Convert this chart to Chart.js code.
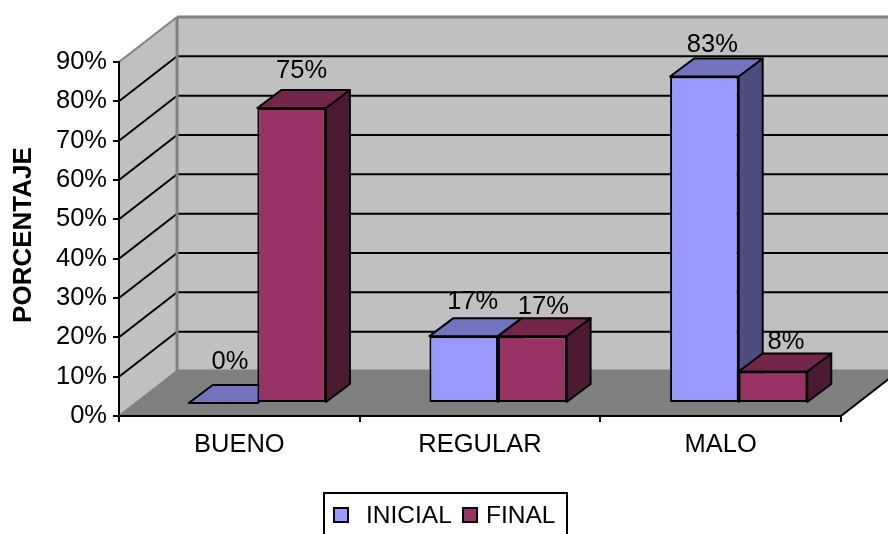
<!DOCTYPE html>
<html>
<head>
<meta charset="utf-8">
<title>Porcentaje por categoría</title>
<script src="https://cdn.jsdelivr.net/npm/chart.js@4"></script>
<style>
html, body { margin: 0; padding: 0; background: #ffffff; overflow: hidden; }
#wrap { position: relative; width: 888px; height: 534px; }
</style>
</head>
<body>
<div id="wrap"><canvas id="chart" width="888" height="534"></canvas></div>
<script>
const categories = ['BUENO', 'REGULAR', 'MALO'];
const inicialValues = [0, 17, 83];
const finalValues = [75, 17, 8];
const seriesNames = ['INICIAL', 'FINAL'];
const tickStep = 10;
const axisMax = 90;
const axisTitle = 'PORCENTAJE';

const FONT = '"Liberation Sans", Arial, sans-serif';
const TEXT_SIZE = 25.5;
const LEGEND_SIZE = 24.5;
const TITLE_SIZE = 26;

// Oblique projection of the box: wall depth, how far bars sit from the front, bar depth.
const wallDepth = { dx: 58, dy: 45 };
const barInset = { dx: 18, dy: 13 };
const barDepth = { dx: 24, dy: 18 };

// Hand placement of the value labels relative to each bar's front top centre.
const labelNudge = [
  [[7, -41], [9, -34], [8, -32]],
  [[10, -37], [11, -29], [13, -30]]
];

const faceColors = {
  front: ['#9999ff', '#993366'],
  top: ['#7373bf', '#732649'],
  side: ['#4d4d80', '#4d1a33']
};

function polygon(ctx, pts, fill, stroke, width) {
  ctx.beginPath();
  pts.forEach((p, i) => i ? ctx.lineTo(p[0], p[1]) : ctx.moveTo(p[0], p[1]));
  ctx.closePath();
  if (fill) { ctx.fillStyle = fill; ctx.fill(); }
  if (stroke) { ctx.strokeStyle = stroke; ctx.lineWidth = width; ctx.stroke(); }
}

function segment(ctx, a, b, color, width) {
  ctx.beginPath();
  ctx.moveTo(a[0], a[1]);
  ctx.lineTo(b[0], b[1]);
  ctx.strokeStyle = color;
  ctx.lineWidth = width;
  ctx.stroke();
}

// Back wall, side wall, floor and gridlines behind the axes.
const roomPlugin = {
  id: 'room',
  beforeDraw(chart) {
    const { ctx, scales: { x, y } } = chart;
    const L = x.left, R = x.right, T = y.top, B = y.bottom;
    const dx = wallDepth.dx, dy = wallDepth.dy;
    ctx.save();
    polygon(ctx, [[L + dx, T - dy], [R + dx, T - dy], [R + dx, B - dy], [L + dx, B - dy]], '#c0c0c0');
    polygon(ctx, [[L, T], [L + dx, T - dy], [L + dx, B - dy], [L, B]], '#c0c0c0');
    polygon(ctx, [[L, B], [L + dx, B - dy], [R + dx, B - dy], [R, B]], '#808080');

    for (let v = tickStep; v < axisMax; v += tickStep) {
      const py = y.getPixelForValue(v);
      segment(ctx, [L, py], [L + dx, py - dy], '#000000', 2);
      segment(ctx, [L + dx, py - dy], [R + dx, py - dy], '#000000', 2);
    }
    segment(ctx, [L, T], [L + dx, T - dy], '#808080', 2);
    segment(ctx, [L + dx, T - dy], [R + dx, T - dy], '#808080', 3);
    segment(ctx, [L + dx, T - dy], [L + dx, B - dy], '#808080', 3);
    segment(ctx, [L + dx, B - dy], [R + dx, B - dy], '#808080', 3);
    segment(ctx, [L, B], [L + dx, B - dy], '#808080', 2);
    segment(ctx, [R, B], [R + dx, B - dy], '#000000', 2);
    ctx.restore();
  }
};

// Shifts the bars into the room and adds their top and side faces.
const extrudePlugin = {
  id: 'extrude',
  beforeDatasetsDraw(chart) {
    const { ctx } = chart;
    ctx.save();
    ctx.translate(barInset.dx, -barInset.dy);
    ctx.lineJoin = 'round';
    categories.forEach((_, c) => {
      chart.data.datasets.forEach((_, s) => {
        const el = chart.getDatasetMeta(s).data[c];
        const { x, y, base, width } = el.getProps(['x', 'y', 'base', 'width'], true);
        const l = x - width / 2, r = x + width / 2;
        const ddx = barDepth.dx, ddy = barDepth.dy;
        polygon(ctx, [[r, y], [r + ddx, y - ddy], [r + ddx, base - ddy], [r, base]], faceColors.side[s], '#000000', 2);
        polygon(ctx, [[l, y], [l + ddx, y - ddy], [r + ddx, y - ddy], [r, y]], faceColors.top[s], '#000000', 2);
      });
    });
  },
  afterDatasetsDraw(chart) {
    const { ctx } = chart;
    ctx.restore();
    ctx.save();
    ctx.font = `${TEXT_SIZE}px ${FONT}`;
    ctx.fillStyle = '#000000';
    ctx.textAlign = 'center';
    ctx.textBaseline = 'middle';
    chart.data.datasets.forEach((ds, s) => {
      chart.getDatasetMeta(s).data.forEach((el, c) => {
        const { x, y } = el.getProps(['x', 'y'], true);
        const n = labelNudge[s][c];
        ctx.fillText(ds.data[c] + '%', x + barInset.dx + n[0], y - barInset.dy + n[1]);
      });
    });
    ctx.restore();
  }
};

// Rotated axis title and the boxed legend that runs off the bottom edge.
const annotationsPlugin = {
  id: 'annotations',
  afterDraw(chart) {
    const { ctx } = chart;
    ctx.save();
    ctx.translate(24, 235);
    ctx.rotate(-Math.PI / 2);
    ctx.font = `bold ${TITLE_SIZE}px ${FONT}`;
    ctx.fillStyle = '#000000';
    ctx.textAlign = 'center';
    ctx.textBaseline = 'middle';
    ctx.fillText(axisTitle, 0, 0);
    ctx.restore();

    ctx.save();
    ctx.strokeStyle = '#000000';
    ctx.lineWidth = 2;
    ctx.strokeRect(324, 493, 243, 60);
    ctx.font = `${LEGEND_SIZE}px ${FONT}`;
    ctx.textBaseline = 'middle';
    ctx.textAlign = 'left';
    const markers = [334, 463];
    const texts = [366, 486];
    chart.data.datasets.forEach((ds, s) => {
      ctx.fillStyle = ds.backgroundColor;
      ctx.fillRect(markers[s], 508, 14, 14);
      ctx.strokeRect(markers[s], 508, 14, 14);
      ctx.fillStyle = '#000000';
      ctx.fillText(ds.label, texts[s], 516);
    });
    ctx.restore();
  }
};

new Chart(document.getElementById('chart'), {
  type: 'bar',
  data: {
    labels: categories,
    datasets: [
      { label: seriesNames[0], data: inicialValues, backgroundColor: faceColors.front[0] },
      { label: seriesNames[1], data: finalValues, backgroundColor: faceColors.front[1] }
    ]
  },
  plugins: [roomPlugin, extrudePlugin, annotationsPlugin],
  options: {
    responsive: false,
    animation: false,
    layout: { autoPadding: false, padding: { top: 62, right: 47, left: 0, bottom: 0 } },
    plugins: { legend: { display: false }, tooltip: { enabled: false } },
    datasets: {
      bar: {
        categoryPercentage: 0.57,
        barPercentage: 1,
        borderColor: '#000000',
        borderWidth: 2,
        borderSkipped: false,
        clip: false
      }
    },
    scales: {
      x: {
        afterFit(scale) { scale.height = 118; },
        grid: { drawOnChartArea: false, color: '#000000', lineWidth: 2, tickLength: 6 },
        border: { color: '#000000', width: 2 },
        ticks: {
          color: '#000000',
          maxRotation: 0,
          padding: 8,
          font: { family: FONT, size: TEXT_SIZE }
        }
      },
      y: {
        min: 0,
        max: axisMax,
        afterFit(scale) { scale.width = 119; },
        grid: { drawOnChartArea: false, color: '#000000', lineWidth: 2, tickLength: 6 },
        border: { color: '#000000', width: 2 },
        ticks: {
          stepSize: tickStep,
          color: '#000000',
          padding: 6,
          font: { family: FONT, size: TEXT_SIZE },
          callback: v => v + '%'
        }
      }
    }
  }
});
</script>
</body>
</html>
